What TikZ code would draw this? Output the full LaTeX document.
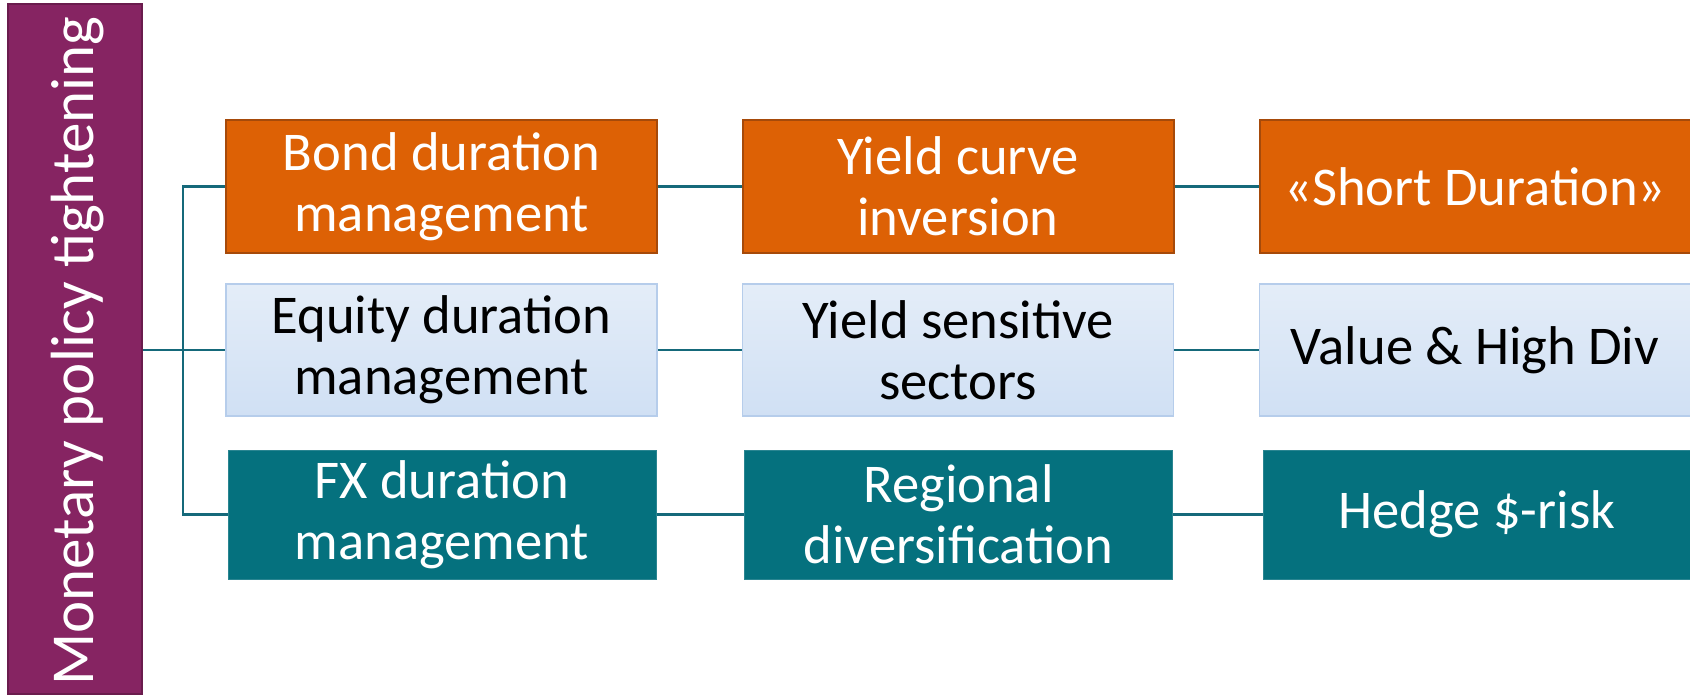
\documentclass[tikz,border=0pt]{standalone}
\usepackage{fontspec}
\setmainfont{Carlito}
\definecolor{plum}{HTML}{862462}
\definecolor{plumedge}{HTML}{6A1C4D}
\definecolor{rust}{HTML}{DD6105}
\definecolor{rustedge}{HTML}{A64A0A}
\definecolor{paletop}{HTML}{E4EDF8}
\definecolor{palebot}{HTML}{D0E0F4}
\definecolor{paleedge}{HTML}{B6CDEB}
\definecolor{tealfill}{HTML}{05717E}
\definecolor{tealedge}{HTML}{2A8591}
\definecolor{wire}{HTML}{15697A}
\begin{document}
\begin{tikzpicture}[x=1pt,y=-1pt,
  base/.style={rectangle,inner sep=0pt,align=center,minimum width=431pt,
    font=\fontsize{54.6}{61}\selectfont},
  orangebox/.style={base,fill=rust,draw=rustedge,line width=2pt,text=white,minimum height=133pt},
  bluebox/.style={base,top color=paletop,bottom color=palebot,draw=paleedge,line width=1.5pt,text=black,minimum height=132pt},
  tealbox/.style={base,fill=tealfill,draw=tealedge,line width=1pt,text=white,minimum height=129pt,minimum width=428pt},
  conn/.style={draw=wire,line width=2.6pt}]
\useasboundingbox (0,0) rectangle (1690,695);

% root box with its rotated caption
\node[rectangle,fill=plum,draw=plumedge,line width=2pt,inner sep=0pt,
  minimum width=134pt,minimum height=690pt] (mp) at (75,349) {};
\node[rotate=90,anchor=base,text=white,inner sep=0pt,
  font=\fontsize{61}{70}\selectfont] (mptext) at (93,351) {Monetary policy tightening};

% first column
\node[orangebox] (r1c1) at (441.5,186.5) {Bond duration\\management};
\node[bluebox]   (r2c1) at (441.5,350)   {Equity duration\\management};
\node[tealbox]   (r3c1) at (442,514.5)   {FX duration\\management};

% second column
\node[orangebox] (r1c2) at (958,186.5) {Yield curve\\inversion};
\node[bluebox]   (r2c2) at (958,350)   {Yield sensitive\\sectors};
\node[tealbox]   (r3c2) at (958.5,514.5) {Regional\\diversification};

% third column
\node[orangebox] (r1c3) at (1475,186.5) {«Short Duration»};
\node[bluebox]   (r2c3) at (1475,350)   {Value \& High Div};
\node[tealbox]   (r3c3) at (1477,514.5) {Hedge \$-risk};

% tree connectors
\coordinate (jn) at (183,350);
\draw[conn] (mp.east |- r2c1.west) -- (r2c1.west);
\draw[conn] (r1c1.west) -- (r1c1.west -| jn) -- (r3c1.west -| jn) -- (r3c1.west);
\foreach \r in {1,2,3}{
  \draw[conn] (r\r c1.east) -- (r\r c2.west);
  \draw[conn] (r\r c2.east) -- (r\r c3.west);
}
\end{tikzpicture}
\end{document}
